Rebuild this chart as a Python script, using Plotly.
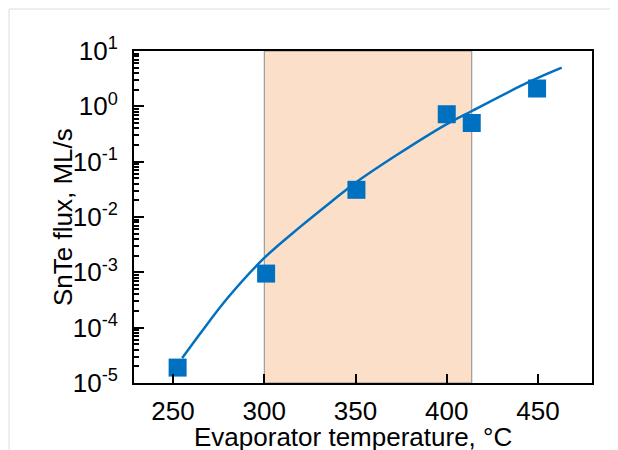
import plotly.graph_objects as go

# Measured data points
temp_pts = [252.5, 301, 350.5, 400, 413.7, 449.5]
flux_pts = [1.9e-5, 9.5e-4, 0.031, 0.72, 0.50, 2.1]

# Fitted curve (log10 of flux)
curve_t = [255, 265, 280, 300, 320, 338, 350, 373, 400, 414, 445, 463]
curve_log = [-4.55, -4.10, -3.46, -2.74, -2.17, -1.69, -1.38, -0.87, -0.32, -0.08, 0.44, 0.70]
curve_flux = [10 ** v for v in curve_log]

# Shaded window
band = [300, 413.7]

x_ticks = [250, 300, 350, 400, 450]
y_exps = [-5, -4, -3, -2, -1, 0, 1]
y_tickvals = [10.0 ** e for e in y_exps]
y_ticktext = [f"10<sup>{e}</sup>" for e in y_exps]
minor_vals = [m * 10.0 ** e for e in y_exps[:-1] for m in range(2, 10)]

x_title = "Evaporator temperature, °C"
y_title = "SnTe flux, ML/s"

blue = "#0070C0"
font = "Liberation Sans, Arial, sans-serif"
fs = 26

fig = go.Figure()
fig.add_vrect(x0=band[0], x1=band[1], fillcolor="#FBDFC9", opacity=1,
              line=dict(color="#8a8a8a", width=1), layer="below")
fig.add_trace(go.Scatter(x=curve_t, y=curve_flux, mode="lines",
                         line=dict(color=blue, width=2.5, shape="spline"),
                         showlegend=False, hoverinfo="skip"))
fig.add_trace(go.Scatter(x=temp_pts, y=flux_pts, mode="markers",
                         marker=dict(symbol="square", size=18, color=blue,
                                     line=dict(width=0)),
                         showlegend=False))

fig.add_shape(type="rect", xref="paper", yref="paper",
              x0=-0.2729, x1=1.2, y0=-0.5, y1=1.1265,
              line=dict(color="#DCDCDC", width=1), fillcolor="rgba(0,0,0,0)")

fig.add_annotation(text=x_title, xref="paper", yref="paper",
                   x=0.478, y=-0.1627, xanchor="center", yanchor="middle",
                   showarrow=False, font=dict(size=fs))
fig.add_annotation(text=y_title, xref="paper", yref="paper",
                   x=-0.155, y=0.5, xanchor="center", yanchor="middle",
                   textangle=-90, showarrow=False, font=dict(size=fs))

fig.update_layout(
    width=618, height=450,
    margin=dict(l=126, r=34, t=43, b=75),
    paper_bgcolor="white", plot_bgcolor="white",
    font=dict(family=font, size=fs, color="black"),
    showlegend=False,
)
fig.update_xaxes(
    range=[228.6, 479.6], tickmode="array", tickvals=x_ticks,
    ticks="inside", ticklen=9, tickwidth=2, tickcolor="black",
    showline=True, linecolor="black", linewidth=2, mirror=True,
    showgrid=False, zeroline=False, ticklabelstandoff=4,
    tickfont=dict(size=fs), automargin=False,
)
fig.update_yaxes(
    type="log", range=[-5, 1], tickmode="array", tickvals=y_tickvals,
    ticktext=y_ticktext,
    ticks="inside", ticklen=10, tickwidth=2, tickcolor="black",
    minor=dict(tickmode="array", tickvals=minor_vals, ticks="inside",
               ticklen=5, tickwidth=1.5, tickcolor="black", showgrid=False),
    showline=True, linecolor="black", linewidth=2, mirror=True,
    showgrid=False, zeroline=False, ticklabelstandoff=9,
    tickfont=dict(size=fs), automargin=False,
)

fig.write_html("out.html")
